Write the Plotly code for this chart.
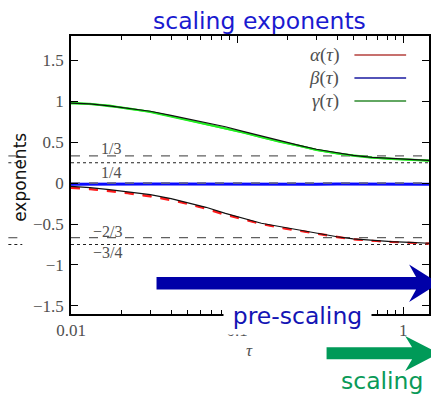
import plotly.graph_objects as go
import numpy as np

# ---------------- data ----------------
tau = [0.01, 0.013, 0.017, 0.022, 0.03, 0.04, 0.05, 0.065, 0.085, 0.11,
       0.14, 0.18, 0.24, 0.3, 0.4, 0.5, 0.65, 0.85, 1.1, 1.43]

gamma_fit = [0.98, 0.97, 0.946, 0.92, 0.88, 0.83, 0.79, 0.745, 0.69, 0.63,
             0.575, 0.52, 0.46, 0.415, 0.37, 0.34, 0.315, 0.30, 0.29, 0.28]
gamma_data1 = [0.985, 0.965, 0.95, 0.91, 0.875, 0.82, 0.775, 0.73, 0.675, 0.615,
               0.565, 0.505, 0.455, 0.405, 0.365, 0.335, 0.31, 0.297, 0.287, 0.276]
gamma_data2 = [0.975, 0.972, 0.94, 0.915, 0.87, 0.815, 0.78, 0.725, 0.67, 0.62,
               0.56, 0.51, 0.45, 0.41, 0.362, 0.338, 0.313, 0.295, 0.285, 0.275]

alpha_fit = [-0.04, -0.055, -0.08, -0.105, -0.14, -0.19, -0.235, -0.295, -0.37, -0.43,
             -0.49, -0.53, -0.575, -0.615, -0.655, -0.68, -0.70, -0.715, -0.725, -0.735]
alpha_data1 = [-0.05, -0.07, -0.09, -0.12, -0.155, -0.2, -0.25, -0.305, -0.38, -0.44,
               -0.495, -0.54, -0.58, -0.62, -0.66, -0.685, -0.705, -0.72, -0.728, -0.738]
alpha_data2 = [-0.06, -0.075, -0.1, -0.125, -0.165, -0.21, -0.255, -0.315, -0.39, -0.45,
               -0.5, -0.545, -0.59, -0.625, -0.662, -0.688, -0.707, -0.72, -0.73, -0.74]

beta_data = [-0.012, -0.010, -0.011, -0.012, -0.010, -0.011, -0.012, -0.011, -0.010, -0.012,
             -0.011, -0.010, -0.011, -0.012, -0.011, -0.010, -0.011, -0.012, -0.011, -0.012]

ref_values = [1/3, 1/4, 0.0, -2/3, -3/4]
ref_dash = ["dash", "dot", "dash", "dash", "dot"]
ref_labels = ["1/3", "1/4", "−2/3", "−3/4"]

ytick_vals = [-1.5, -1, -0.5, 0, 0.5, 1, 1.5]
ytick_text = ["−1.5", "−1", "−0.5", "0", "0.5", "1", "1.5"]
xtick_vals = [0.01, 0.1, 1]
xtick_text = ["0.01", "0.1", "1"]
xminor_vals = [0.02, 0.03, 0.04, 0.05, 0.06, 0.07, 0.08, 0.09,
               0.2, 0.3, 0.4, 0.5, 0.6, 0.7, 0.8, 0.9]

legend_names = ["<i>α</i>(<i>τ</i>)", "<i>β</i>(<i>τ</i>)", "<i>γ</i>(<i>τ</i>)"]
legend_colors = ["#b5403c", "#1a1aa0", "#2e8a2e"]

# ---------------- layout geometry (page pixels) ----------------
OFF = 8                      # default body margin of the html page
W, H = 439 - OFF, 395 - OFF  # figure size
PL, PR, PT, PB = 71, 431, 36, 314   # plot box in page pixels
L, T = PL - OFF, PT - OFF
R, B = (W + OFF) - PR, (H + OFF) - PB
PW, PH = PR - PL, PB - PT


def px(x):
    return (x - PL) / PW


def py(y):
    return (PB - y) / PH


SERIF = "Liberation Serif"
SANS = "DejaVu Sans"
GRAY = "#505050"

fig = go.Figure()

# reference lines
for v, d in zip(ref_values, ref_dash):
    fig.add_trace(go.Scatter(x=[tau[0], tau[-1]], y=[v, v], mode="lines",
                             line=dict(color="#606060" if d == "dash" else "#202020",
                                       width=1.2, dash=d),
                             showlegend=False, hoverinfo="skip"))

# data traces
for arr in (gamma_data1, gamma_data2):
    fig.add_trace(go.Scatter(x=tau, y=arr, mode="lines",
                             line=dict(color="#22ee22", width=2), showlegend=False))
for arr in (alpha_data1, alpha_data2):
    fig.add_trace(go.Scatter(x=tau, y=arr, mode="lines",
                             line=dict(color="#ff1a1a", width=1.8, dash="dash"), showlegend=False))
fig.add_trace(go.Scatter(x=tau, y=beta_data, mode="lines",
                         line=dict(color="#0a0aff", width=3), showlegend=False))
fig.add_trace(go.Scatter(x=tau, y=[0.0] * len(tau), mode="lines",
                         line=dict(color="#707070", width=1.2, dash="dash"), showlegend=False))
for arr in (gamma_fit, alpha_fit):
    fig.add_trace(go.Scatter(x=tau, y=arr, mode="lines",
                             line=dict(color="#111111", width=1.2), showlegend=False))

shapes = []
annotations = []


def note(text, x, y, size, color, family, **kw):
    d = dict(text=text, xref="paper", yref="paper", x=px(x), y=py(y),
             xanchor="center", yanchor="middle", showarrow=False,
             font=dict(family=family, size=size, color=color))
    d.update(kw)
    annotations.append(d)


# reference-line stubs in left margin
for v, d in zip([1/3, 1/4, -2/3, -3/4], ["dash", "dot", "dash", "dot"]):
    shapes.append(dict(type="line", xref="paper", yref="y", x0=px(8), x1=px(22), y0=v, y1=v,
                       line=dict(color="#606060" if d == "dash" else "#202020", width=1.2, dash=d)))

# reference labels
lab_pos = [(111, 148), (111, 172), (108, 231), (108, 252)]
for t, (xx, yy) in zip(ref_labels, lab_pos):
    note(t, xx, yy, 16, GRAY, SERIF)

# legend
leg_y = [55, 78, 101]
for name, col, yy in zip(legend_names, legend_colors, leg_y):
    note(name, 343, yy, 19, GRAY, SERIF, xanchor="right")
    shapes.append(dict(type="line", xref="paper", yref="paper", x0=px(356), x1=px(408),
                       y0=py(yy), y1=py(yy), line=dict(color=col, width=1.6)))


def poly(points, color):
    p = "M " + " L ".join(f"{px(a):.5f},{py(b):.5f}" for a, b in points) + " Z"
    return dict(type="path", xref="paper", yref="paper", path=p,
                fillcolor=color, line=dict(width=0), layer="above")


# big arrows
shapes.append(poly([(157, 277), (418, 277), (411, 264.5), (441, 283.3), (411, 302),
                    (418, 289.6), (157, 289.6)], "#0000a8"))
shapes.append(poly([(328, 347.3), (414, 347.3), (407, 336), (441, 353.3), (407, 371),
                    (414, 359.3), (328, 359.3)], "#009a58"))

note("scaling exponents", 261, 21, 23.5, "#1a1ad0", SANS)
note("exponents", 19.5, 177, 17, "#111111", SANS, textangle=-90)
note("<i>τ</i>", 250, 350, 17, GRAY, SERIF)
note("pre-scaling", 298.5, 315.5, 23.5, "#1414b4", SANS,
     bgcolor="white", width=147, height=37, borderpad=0)
note("scaling", 384, 381, 23.5, "#0a9a58", SANS)

fig.update_layout(
    width=W, height=H,
    margin=dict(l=L, r=R, t=T, b=B),
    plot_bgcolor="white", paper_bgcolor="white",
    showlegend=False,
    shapes=shapes, annotations=annotations,
    xaxis=dict(type="log", range=[np.log10(0.01), np.log10(1.43)],
               tickvals=xtick_vals, ticktext=xtick_text,
               ticks="inside", ticklen=7, tickwidth=1.2, tickcolor="black",
               minor=dict(tickvals=xminor_vals, ticks="inside", ticklen=4, tickcolor="black", tickwidth=1),
               showline=True, linecolor="black", linewidth=1.5, mirror="ticks",
               showgrid=False, zeroline=False,
               tickfont=dict(family=SERIF, size=17, color=GRAY)),
    yaxis=dict(range=[-1.6, 1.8], tickvals=ytick_vals, ticktext=ytick_text,
               ticks="inside", ticklen=7, tickwidth=1.2, tickcolor="black",
               ticklabelstandoff=2,
               showline=True, linecolor="black", linewidth=1.5, mirror="ticks",
               showgrid=False, zeroline=False,
               tickfont=dict(family=SERIF, size=17, color=GRAY)),
)

fig.write_html("out.html")
